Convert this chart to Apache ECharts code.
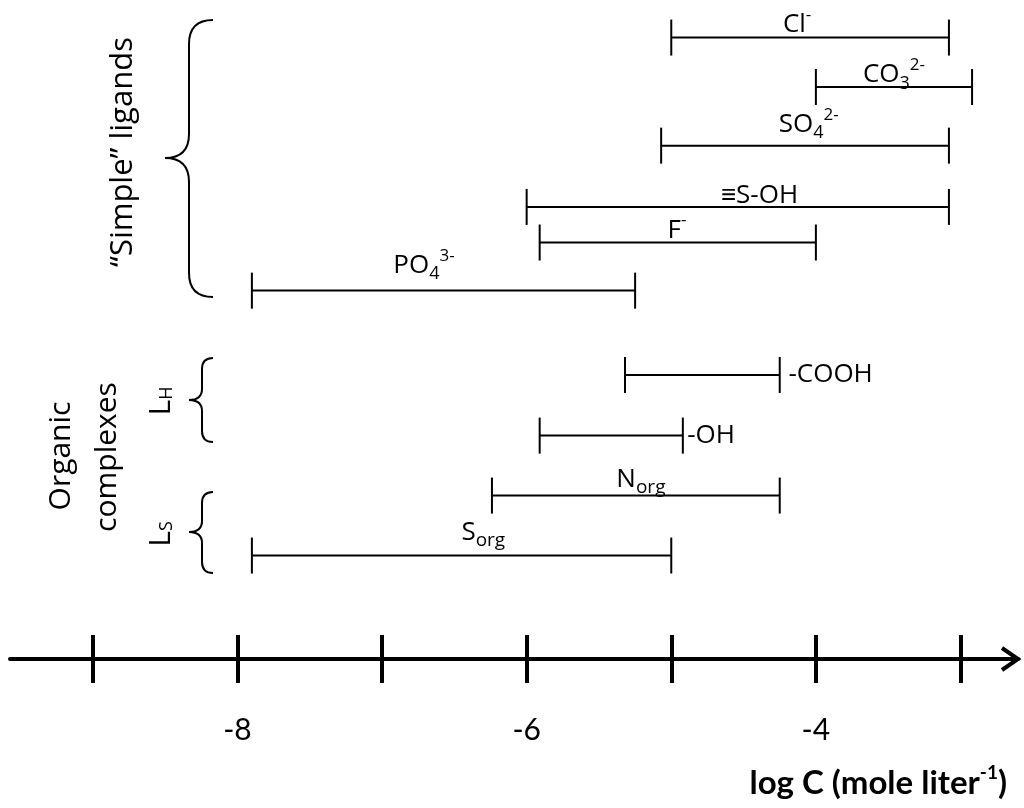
<!DOCTYPE html>
<html>
<head>
<meta charset="utf-8">
<script src="https://cdn.jsdelivr.net/npm/echarts@6/dist/echarts.min.js"></script>
<style>
  html, body { margin: 0; padding: 0; background: #ffffff; }
  #chart { width: 1024px; height: 808px; }
</style>
</head>
<body>
<div id="chart"></div>
<script>
// Ligand names, written as rich-text markup for sub- and superscripts
const ligands = ['Cl{sup|-}', 'CO{sub|3}{sup|2-}', 'SO{sub|4}{sup|2-}', '≡S-OH', 'F{sup|-}',
                 'PO{sub|4}{sup|3-}', '-COOH', '-OH', 'N{low|org}', 'S{low|org}'];
// Typical concentration range of each ligand, log C (mole/liter)
const logCLow  = [-5.00, -4.00, -5.07, -6.00, -5.91, -7.90, -5.32, -5.91, -6.24, -7.90];
const logCHigh = [-3.08, -2.92, -3.08, -3.08, -4.00, -5.25, -4.25, -4.92, -4.25, -5.00];
// Vertical row of each range (0 = top of the figure, 100 = the axis)
const rowPos   = [5.7, 13.2, 22.1, 31.4, 36.8, 44.1, 56.9, 66.1, 75.2, 84.3];
// Axis ticks and labelled values
const tickValues = [-9, -8, -7, -6, -5, -4, -3];
const tickLabels = [-8, -6, -4];
const axisTitle  = 'log C (mole liter{sup|-1})';

// ---- label layout (anchor on the log C scale, side, baseline lift in px) ----
const labelAt   = [-4.13, -3.46, -4.05, -4.39, -4.96, -6.71, -4.19, -4.89, -5.21, -6.30];
const labelSide = ['above', 'above', 'above', 'above', 'above', 'above', 'right', 'right', 'above', 'above'];
const labelLift = [6, 5, 14, 4, 5, 18, -7, -7, 9, 16];

const X_MIN = -9.5726, X_MAX = -2.6024;
const INK = '#000000';
const LABEL_FONT = '"Open Sans", "Noto Sans", sans-serif';
const AXIS_FONT = 'Lato, "Open Sans", sans-serif';

const richLabel = {
  sup: { fontSize: 17, lineHeight: 27, verticalAlign: 'top', fontFamily: LABEL_FONT, fill: INK, color: INK },
  sub: { fontSize: 18, lineHeight: 19, verticalAlign: 'bottom', fontFamily: LABEL_FONT, fill: INK, color: INK },
  low: { fontSize: 19, lineHeight: 26, verticalAlign: 'bottom', fontFamily: LABEL_FONT, fill: INK, color: INK }
};

const CAP = 18;        // half height of the end caps
const TICK_LEN = 24;   // ticks cross the axis line, this far each side

function renderRange(params, api) {
  const i = params.dataIndex;
  const a = api.coord([api.value(0), api.value(2)]);
  const b = api.coord([api.value(1), api.value(2)]);
  const y = a[1];
  const stroke = { stroke: INK, lineWidth: 2 };
  const side = labelSide[i];
  const lx = api.coord([labelAt[i], api.value(2)])[0];
  // text box bottom sits about 10.6 px below the baseline for a 36 px line
  const ly = y - labelLift[i] + 10.6;
  return {
    type: 'group',
    children: [
      { type: 'line', shape: { x1: a[0], y1: y, x2: b[0], y2: y }, style: stroke },
      { type: 'line', shape: { x1: a[0], y1: y - CAP, x2: a[0], y2: y + CAP }, style: stroke },
      { type: 'line', shape: { x1: b[0], y1: y - CAP, x2: b[0], y2: y + CAP }, style: stroke },
      {
        type: 'text', x: lx, y: ly,
        style: {
          text: ligands[i], rich: richLabel,
          fontSize: 26, fontFamily: LABEL_FONT, lineHeight: 36,
          fill: INK, align: side === 'right' ? 'left' : 'center', verticalAlign: 'bottom'
        }
      }
    ]
  };
}

const chart = echarts.init(document.getElementById('chart'), null, { renderer: 'canvas' });

const braceStyle = { stroke: INK, lineWidth: 2, fill: null };
// curly brace opening to the right: ends at x0, spine at xm, point at xp
function brace(id, x0, xm, xp, y0, ym, y1, r) {
  const seg = (k, type, shape) => ({ type: type, id: id + k, shape: shape, style: braceStyle });
  return {
    type: 'group', id: id,
    children: [
      seg('a', 'bezierCurve', { x1: x0, y1: y0, cpx1: xm, cpy1: y0, x2: xm, y2: y0 + r }),
      seg('b', 'line', { x1: xm, y1: y0 + r, x2: xm, y2: ym - r }),
      seg('c', 'bezierCurve', { x1: xm, y1: ym - r, cpx1: xm, cpy1: ym, x2: xp, y2: ym }),
      seg('d', 'bezierCurve', { x1: xp, y1: ym, cpx1: xm, cpy1: ym, x2: xm, y2: ym + r }),
      seg('e', 'line', { x1: xm, y1: ym + r, x2: xm, y2: y1 - r }),
      seg('f', 'bezierCurve', { x1: xm, y1: y1 - r, cpx1: xm, cpy1: y1, x2: x0, y2: y1 })
    ]
  };
}
function vText(id, x, y, text, size, rich) {
  return {
    type: 'text', id: id, x: x, y: y, rotation: Math.PI / 2,
    style: {
      text: text, rich: rich || {}, fontSize: size, fontFamily: LABEL_FONT, fill: INK,
      align: 'center', verticalAlign: 'middle'
    }
  };
}
const richSide = {
  s: { fontSize: 18, lineHeight: 22, verticalAlign: 'bottom', fontFamily: LABEL_FONT, fill: INK, color: INK }
};

const AXIS_BOTTOM = 149;
chart.setOption({
  animation: false,
  backgroundColor: '#ffffff',
  grid: [
    // main plotting area; its bottom edge carries the log C axis
    { left: 10, right: 6, top: 0, bottom: AXIS_BOTTOM, containLabel: false },
    // helper grid ending just above the axis, for the upper half of each tick
    { left: 10, right: 6, top: 0, bottom: AXIS_BOTTOM + TICK_LEN, containLabel: false }
  ],
  xAxis: [
    {
      type: 'value', gridIndex: 0, min: X_MIN, max: X_MAX, position: 'bottom',
      splitLine: { show: false },
      axisLine: { show: true, onZero: false, lineStyle: { color: INK, width: 4 } },
      axisTick: { show: true, inside: false, length: TICK_LEN, customValues: tickValues,
                  lineStyle: { color: INK, width: 4 } },
      axisLabel: { show: true, customValues: tickLabels, margin: 56, color: INK,
                   fontSize: 30, fontFamily: AXIS_FONT, formatter: v => String(v) }
    },
    {
      type: 'value', gridIndex: 1, min: X_MIN, max: X_MAX, position: 'bottom',
      splitLine: { show: false },
      axisLine: { show: false },
      axisTick: { show: true, inside: false, length: TICK_LEN, customValues: tickValues,
                  lineStyle: { color: INK, width: 4 } },
      axisLabel: { show: false }
    }
  ],
  yAxis: [
    { type: 'value', gridIndex: 0, min: 0, max: 100, inverse: true, show: false },
    { type: 'value', gridIndex: 1, min: 0, max: 100, show: false }
  ],
  series: [{
    type: 'custom',
    xAxisIndex: 0, yAxisIndex: 0,
    renderItem: renderRange,
    clip: false,
    data: ligands.map((_, i) => [logCLow[i], logCHigh[i], rowPos[i]])
  }],
  graphic: [
    brace('braceSimple', 213, 189, 165, 20, 158, 297, 24),
    brace('braceLH', 213, 202, 189, 358, 400, 442, 11),
    brace('braceLS', 213, 202, 189, 492, 532, 573, 11),
    vText('tSimple', 123, 152, '“Simple” ligands', 31),
    vText('tOrganic', 61, 456, 'Organic', 30),
    vText('tComplexes', 107, 457, 'complexes', 30),
    vText('tLH', 161, 401, 'L{s|H}', 30, richSide),
    vText('tLS', 161, 534, 'L{s|S}', 30, richSide),
    {
      type: 'text', id: 'axisTitle', x: 1007, y: 783,
      style: {
        text: axisTitle,
        rich: { sup: { fontSize: 19, lineHeight: 30, verticalAlign: 'top', fontWeight: 'bold',
                       fontFamily: AXIS_FONT, fill: INK, color: INK } },
        fontSize: 33, fontWeight: 'bold', fontFamily: AXIS_FONT, lineHeight: 40, fill: INK,
        align: 'right', verticalAlign: 'middle'
      }
    }
  ]
});

// open arrow head at the right end of the axis
const tip = chart.convertToPixel({ xAxisIndex: 0, yAxisIndex: 0 }, [X_MAX, 100]);
chart.setOption({
  graphic: [{
    type: 'polyline', id: 'arrowHead',
    shape: { points: [[tip[0] - 16, tip[1] - 11], [tip[0], tip[1]], [tip[0] - 16, tip[1] + 11]] },
    style: { stroke: INK, lineWidth: 4, fill: null, lineJoin: 'miter' }
  }]
});
</script>
</body>
</html>
